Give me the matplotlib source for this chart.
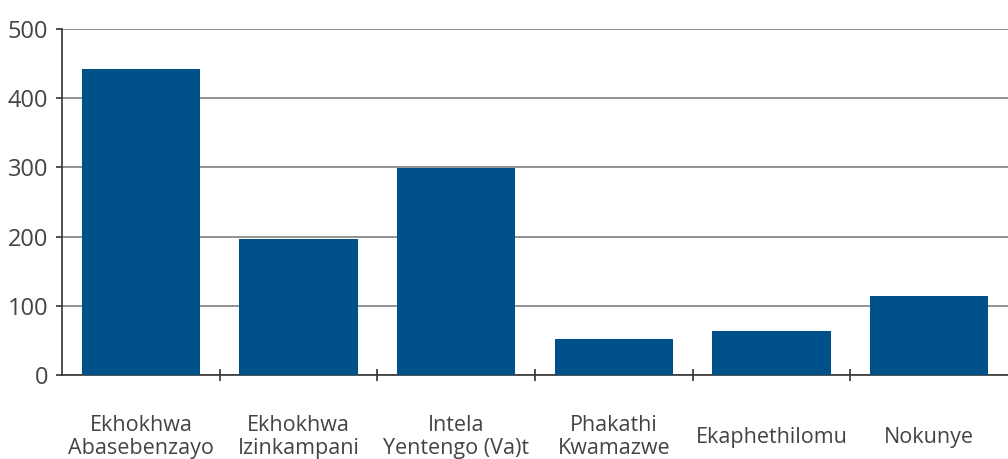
import matplotlib.pyplot as plt

categories = ['Ekhokhwa\nAbasebenzayo', 'Ekhokhwa\nIzinkampani', 'Intela\nYentengo (Va)t',
              'Phakathi\nKwamazwe', 'Ekaphethilomu', 'Nokunye']
values = [442, 196, 299, 52, 63, 114]
yticks = [0, 100, 200, 300, 400, 500]

plt.rcParams['font.family'] = ['Open Sans', 'DejaVu Sans']

fig = plt.figure(figsize=(10.08, 4.59), dpi=100)
ax = fig.add_axes([62 / 1008, 84 / 459, 946 / 1008, 346 / 459])

x = list(range(len(categories)))
ax.bar(x, values, width=0.75, color='#00508A', zorder=3)

ax.set_xlim(-0.5, len(categories) - 0.5)
ax.set_ylim(0, 500)
ax.set_yticks(yticks)
ax.yaxis.grid(True, color='#7f7f7f', linewidth=1.2, zorder=0)
ax.tick_params(axis='y', labelsize=17, colors='#444444', length=4, width=1.2, pad=6)
ax.tick_params(axis='y', color='#333333')

# category separators as minor ticks below the axis
ax.set_xticks([])
ax.set_xticks([i + 0.5 for i in x[:-1]], minor=True)
ax.tick_params(axis='x', which='minor', length=8, width=1.2, color='#333333', direction='inout')

for s in ['top', 'right']:
    ax.spines[s].set_visible(False)
for s in ['left', 'bottom']:
    ax.spines[s].set_color('#333333')
    ax.spines[s].set_linewidth(1.2)

for xi, lab in zip(x, categories):
    ax.text(xi, -0.18, lab, transform=ax.get_xaxis_transform(), ha='center', va='center',
            multialignment='center', fontsize=15.5, color='#444444', linespacing=1.1)

plt.savefig('out.png', dpi=100)
